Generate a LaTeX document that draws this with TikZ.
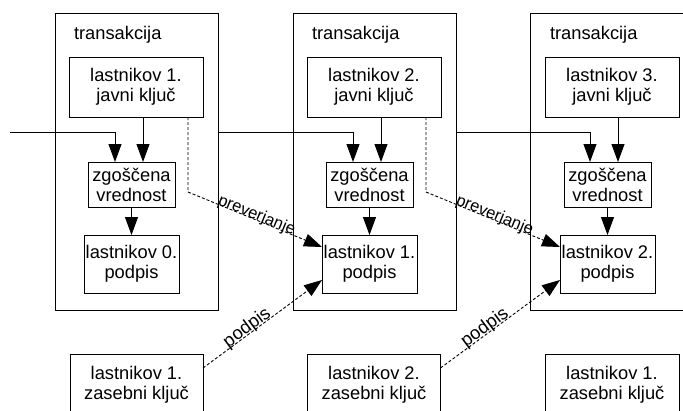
\documentclass[tikz,border=0pt]{standalone}
\usepackage{fontspec}
\setmainfont{Liberation Sans}
\usetikzlibrary{arrows.meta,calc}
\begin{document}
\begin{tikzpicture}[x=1pt,y=-1pt,
  every node/.style={inner sep=0pt, outer sep=0pt},
  txbox/.style={draw, line width=0.9pt, minimum width=163pt, minimum height=297pt},
  box/.style={draw, line width=0.9pt, align=center, font=\fontsize{18.3}{20}\selectfont},
  keybox/.style={box, minimum width=134pt, minimum height=60pt},
  hashbox/.style={box, minimum width=87pt, minimum height=45pt},
  sigbox/.style={box, minimum width=95pt, minimum height=58pt},
  ttl/.style={anchor=base west, font=\fontsize{18.3}{20}\selectfont},
  arr/.style={-{Triangle[length=18pt,width=13pt]}, line width=0.9pt},
  dsh/.style={dash pattern=on 3pt off 2pt, line width=0.9pt},
  lbl/.style={font=\fontsize{16.5}{18}\selectfont, sloped, anchor=base},
  siglbl/.style={font=\fontsize{18.3}{20}\selectfont, sloped, anchor=base, yshift=1pt}]
\useasboundingbox (0,0) rectangle (683,410);
\clip (0,0) rectangle (683,410);
% transaction frames
\node[txbox] (t1) at (136.5,161.5) {};
\node[txbox] (t2) at (374.5,161.5) {};
\node[txbox] (t3) at (611.5,161.5) {};
\node[ttl] (tt1) at (74,39) {transakcija};
\node[ttl] (tt2) at (312,39) {transakcija};
\node[ttl] (tt3) at (550,39) {transakcija};
% public keys
\node[keybox] (j1) at (136,87) {lastnikov 1.\\javni ključ};
\node[keybox] (j2) at (374,87) {lastnikov 2.\\javni ključ};
\node[keybox] (j3) at (612,87) {lastnikov 3.\\javni ključ};
% hashes
\node[hashbox] (z1) at (131.5,184.5) {zgoščena\\vrednost};
\node[hashbox] (z2) at (369.5,184.5) {zgoščena\\vrednost};
\node[hashbox] (z3) at (607.5,184.5) {zgoščena\\vrednost};
% signatures
\node[sigbox] (p1) at (131.5,264) {lastnikov 0.\\podpis};
\node[sigbox] (p2) at (369.5,264) {lastnikov 1.\\podpis};
\node[sigbox] (p3) at (607.5,264) {lastnikov 2.\\podpis};
% private keys
\node[keybox, minimum width=133pt, minimum height=62pt] (k1) at (136.5,385) {lastnikov 1.\\zasebni ključ};
\node[keybox, minimum width=133pt, minimum height=62pt] (k2) at (374,385) {lastnikov 2.\\zasebni ključ};
\node[keybox, minimum width=134pt, minimum height=62pt] (k3) at (612,385) {lastnikov 1.\\zasebni ključ};
% chain
\coordinate (in0) at (10,132);
\draw[arr] (in0) -| ([xshift=-16.5pt]z1.north);
\draw[arr] (t1.east |- in0) -| ([xshift=-16.5pt]z2.north);
\draw[arr] (t2.east |- in0) -| ([xshift=-17.5pt]z3.north);
% key to hash
\draw[arr] ([xshift=7pt]j1.south) -- ([xshift=7pt]j1.south |- z1.north);
\draw[arr] ([xshift=7pt]j2.south) -- ([xshift=7pt]j2.south |- z2.north);
\draw[arr] ([xshift=6pt]j3.south) -- ([xshift=6pt]j3.south |- z3.north);
% hash to signature
\draw[arr] (z1.south) -- (p1.north);
\draw[arr] (z2.south) -- (p2.north);
\draw[arr] (z3.south) -- (p3.north);
% verification
\draw[dsh, arr] ([xshift=52pt]j1.south) -- ++(0,75) -- node[lbl] {preverjanje} ([yshift=17pt]p2.west);
\draw[dsh, arr] ([xshift=52pt]j2.south) -- ++(0,75) -- node[lbl] {preverjanje} ([yshift=17pt]p3.west);
% signing
\draw[dsh, arr] ([yshift=-14pt]k1.north east) -- node[siglbl, pos=0.4] {podpis} ([yshift=-16pt]p2.west);
\draw[dsh, arr] ([yshift=-14pt]k2.north east) -- node[siglbl, pos=0.4] {podpis} ([yshift=-16pt]p3.west);
\end{tikzpicture}
\end{document}
